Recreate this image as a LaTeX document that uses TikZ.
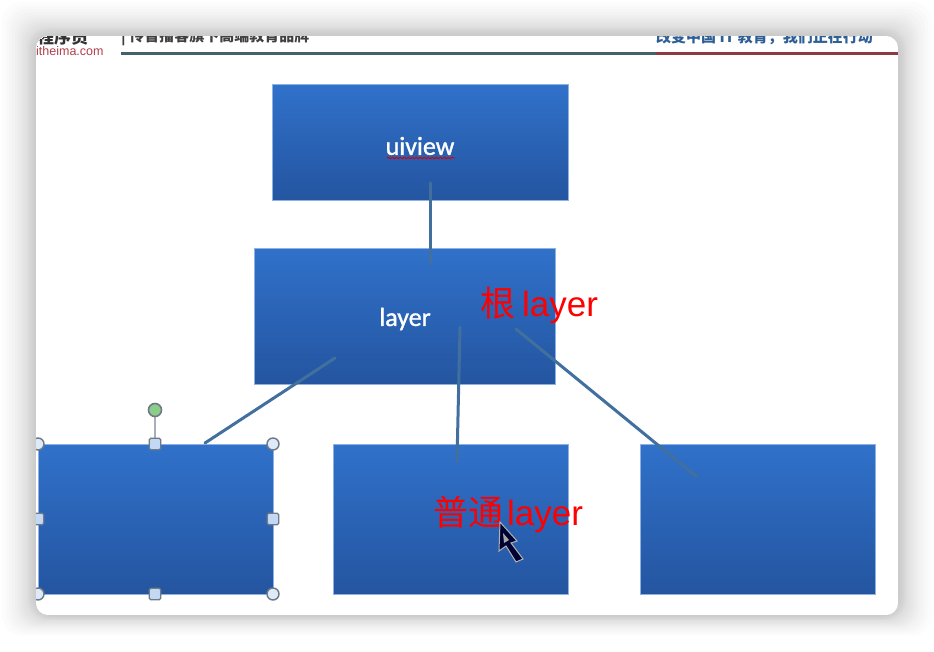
\documentclass[tikz,border=0pt]{standalone}
\usepackage{fontspec}
\usetikzlibrary{decorations.pathmorphing}
\setmainfont{Liberation Sans}
\newfontfamily\cjkfont{Noto Sans CJK SC}
\newfontfamily\bodyfont[FakeBold=1.2]{Carlito}
\definecolor{boxtop}{HTML}{3071CA}
\definecolor{boxbot}{HTML}{2455A0}
\definecolor{linkblue}{HTML}{41709F}
\definecolor{handleblue}{HTML}{C3D9F3}
\definecolor{handlegray}{HTML}{6F7A86}
\definecolor{shadowgray}{HTML}{808080}
\definecolor{mottoblue}{HTML}{2E5E96}
\definecolor{siteredgray}{HTML}{B0404A}
\definecolor{barteal}{HTML}{3F626C}
\definecolor{barred}{HTML}{8E3A44}
\tikzset{
  x=1pt,y=-1pt,
  bluebox/.style={rectangle,inner sep=0pt,anchor=north west,top color=boxtop,bottom color=boxbot,draw=boxtop!55!white,line width=.6pt},
  boxtext/.style={text=white,font=\bodyfont\fontsize{26}{26}\selectfont,inner sep=0pt},
  redtext/.style={text=red,font=\fontsize{35}{35}\selectfont,inner sep=0pt},
  link/.style={draw=linkblue,line width=3pt,line cap=round},
  roundhandle/.style={circle,draw=handlegray,fill=handleblue!55!white,line width=1.4pt,minimum size=12pt,inner sep=0pt},
  squarehandle/.style={rectangle,rounded corners=1.5pt,draw=handlegray,fill=handleblue,line width=1.4pt,minimum size=11.5pt,inner sep=0pt},
  rotatehandle/.style={circle,draw=handlegray,fill=green!40!gray!65!white,line width=1.6pt,minimum size=13pt,inner sep=0pt},
  headtext/.style={font=\cjkfont\bfseries\fontsize{15}{15}\selectfont,inner sep=0pt}
}
\begin{document}
\begin{tikzpicture}
\useasboundingbox (0,0) rectangle (934,652);
\fill[white] (0,0) rectangle (934,652);
% soft window shadow
\foreach \d in {34,30,27,24,21,19,17,15,13,11,9,8,7,6,5,4,3,2,1}{
  \fill[shadowgray,opacity=.022,rounded corners=20pt] (36-\d,36-\d) rectangle (898+\d,615+\d*.6);
}
\begin{scope}
\clip[rounded corners=12pt] (36,36) rectangle (898,615);
\fill[white] (36,36) rectangle (898,615);
% header strip, cut by the window top
\node[headtext,anchor=west,text=black!80,font=\cjkfont\bfseries\fontsize{17}{17}\selectfont] (brand) at (37,37) {程序员};
\node[headtext,anchor=west,text=black!75] (slogan) at (121,37) {| 传智播客旗下高端教育品牌};
\node[anchor=west,inner sep=0pt,text=siteredgray,font=\fontsize{12.5}{12.5}\selectfont] (site) at (36,51) {itheima.com};
\node[headtext,anchor=west,text=mottoblue] (motto) at (656,37) {改变中国 IT 教育，我们正在行动};
\fill[barteal] (121,52.5) rectangle (656,55.5);
\fill[barred] (656,52.5) rectangle (898,55.5);
% boxes
\node[bluebox,minimum width=295.5pt,minimum height=116.5pt] (uiview) at (272,84) {};
\node[bluebox,minimum width=300.5pt,minimum height=135.5pt] (layer) at (254,248) {};
\node[bluebox,minimum width=234.5pt,minimum height=149.5pt] (left) at (38,444) {};
\node[bluebox,minimum width=234.5pt,minimum height=149.5pt] (mid) at (333,444) {};
\node[bluebox,minimum width=234.5pt,minimum height=149.5pt] (right) at (640,444) {};
% connectors
\coordinate (a1) at (430,183); \coordinate (a2) at (430,264);
\coordinate (b1) at (335,358); \coordinate (b2) at (205,443);
\coordinate (c1) at (460,327); \coordinate (c2) at (457,461);
\coordinate (d1) at (516,329); \coordinate (d2) at (697,477);
\draw[link] (a1) -- (a2);
\draw[link] (b1) -- (b2);
\draw[link] (c1) -- (c2);
\draw[link] (d1) -- (d2);
% texts
\node[boxtext] (t1) at (420,146) {uiview};
\draw[red!85!black,line width=.9pt,decorate,decoration={snake,amplitude=.8pt,segment length=4pt}] (387,158) -- (455,158);
\node[boxtext] (t2) at (405,319) {layer};
\node[redtext,anchor=west] (t3) at (480,305) {{\cjkfont 根}\hspace{7pt}layer};
\node[redtext,anchor=west] (t4) at (433,514) {{\cjkfont 普通}\hspace{4pt}layer};
% selection handles
\coordinate (rt) at (155,410);
\draw[handlegray!60!white,line width=1.2pt] (155,443) -- (rt);
\node[rotatehandle] (rot) at (rt) {};
\node[roundhandle] (h1) at (38,444) {};
\node[squarehandle] (h2) at (155,444) {};
\node[roundhandle] (h3) at (273,444) {};
\node[squarehandle] (h4) at (38,519) {};
\node[squarehandle] (h5) at (273,519) {};
\node[roundhandle] (h6) at (38,594) {};
\node[squarehandle] (h7) at (155,594) {};
\node[roundhandle] (h8) at (273,594) {};
% mouse cursor
\fill[black!80!blue,draw=gray!60,line width=1pt] (500,522) -- (517,541) -- (511,543) -- (523,559) -- (516,562) -- (506,546) -- (499,551) -- cycle;
\fill[gray!70] (503,533) -- (509,540) -- (504,543) -- cycle;
\end{scope}
\end{tikzpicture}
\end{document}
